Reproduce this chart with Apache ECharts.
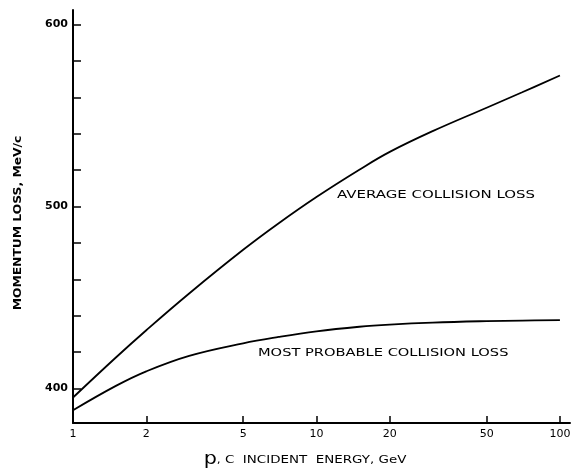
<!DOCTYPE html>
<html><head><meta charset="utf-8">
<script src="https://cdn.jsdelivr.net/npm/echarts@6/dist/echarts.min.js"></script>
<style>html,body{margin:0;padding:0;background:#fff}#c{width:575px;height:470px}</style>
</head><body><div id="c"></div>
<script>
// Incident energy (GeV), log scale
const energy = [1, 1.5, 2, 3, 5, 7, 10, 15, 20, 30, 50, 70, 100];
// Momentum loss (MeV/c)
const averageLoss = [395, 417, 432, 452.2, 476.2, 490.8, 505.2, 520.2, 530, 541.4, 554.3, 562.8, 572];
const mostProbableLoss = [388, 401.4, 409.4, 417.9, 424.8, 428.3, 431.4, 433.9, 435.1, 436.2, 437, 437.3, 437.5];
const xTickValues = [1, 2, 5, 10, 20, 50, 100];
const yTickValues = [400, 420, 440, 460, 480, 500, 520, 540, 560, 580, 600];
const yLabelValues = [400, 500, 600];
const seriesNames = ['AVERAGE COLLISION LOSS', 'MOST PROBABLE COLLISION LOSS'];

const lg = v => Math.log10(v);
const toPairs = (xs, ys) => xs.map((x, i) => [lg(x), ys[i]]);

const chart = echarts.init(document.getElementById('c'));
const font = 'DejaVu Sans';
chart.setOption({
  backgroundColor: '#fff',
  animation: false,
  grid: { left: 73, right: 5, top: 10, bottom: 47 },
  xAxis: {
    type: 'value', min: 0, max: lg(110),
    axisLine: { show: true, lineStyle: { color: '#000', width: 2 } },
    axisTick: { show: true, inside: true, length: 7, customValues: xTickValues.map(lg), lineStyle: { color: '#000', width: 1.5 } },
    axisLabel: { customValues: xTickValues.map(lg), margin: 6, color: '#000', fontFamily: font, fontSize: 11,
      formatter: v => String(Math.round(Math.pow(10, v))) },
    splitLine: { show: false }
  },
  yAxis: {
    type: 'value', min: 381, max: 608,
    axisLine: { show: true, lineStyle: { color: '#000', width: 2 } },
    axisTick: { show: true, inside: true, length: 8, customValues: yTickValues, lineStyle: { color: '#000', width: 1.5 } },
    axisLabel: { customValues: yLabelValues, margin: 5, color: '#000', fontFamily: font, fontSize: 11, fontWeight: 'bold' },
    splitLine: { show: false }
  },
  series: [
    { name: seriesNames[0], type: 'line', data: toPairs(energy, averageLoss), smooth: 0.4, showSymbol: false,
      lineStyle: { color: '#000', width: 1.8 } },
    { name: seriesNames[1], type: 'line', data: toPairs(energy, mostProbableLoss), smooth: 0.4, showSymbol: false,
      lineStyle: { color: '#000', width: 1.8 } }
  ],
  graphic: [
    { type: 'text', x: 337, y: 195, scaleX: 1.36, style: { text: seriesNames[0], fill: '#000', font: '11px "DejaVu Sans"', verticalAlign: 'middle' } },
    { type: 'text', x: 258, y: 353, scaleX: 1.33, style: { text: seriesNames[1], fill: '#000', font: '11px "DejaVu Sans"', verticalAlign: 'middle' } },
    { type: 'text', x: 18, y: 223, rotation: Math.PI / 2, scaleX: 1.12, style: { text: 'MOMENTUM LOSS, MeV/c', fill: '#000',
        font: 'bold 11px "DejaVu Sans"', align: 'center', verticalAlign: 'middle' } },
    { type: 'text', x: 305, y: 460, scaleX: 1.22, style: {
        text: '{p|p}{s|,}{t| C  INCIDENT  ENERGY, GeV}', align: 'center', verticalAlign: 'middle',
        rich: {
          p: { fontSize: 17, fontFamily: font, fill: '#000' },
          s: { fontSize: 10, fontFamily: font, fill: '#000' },
          t: { fontSize: 11, fontFamily: font, fill: '#000' }
        } } }
  ]
});
</script></body></html>
